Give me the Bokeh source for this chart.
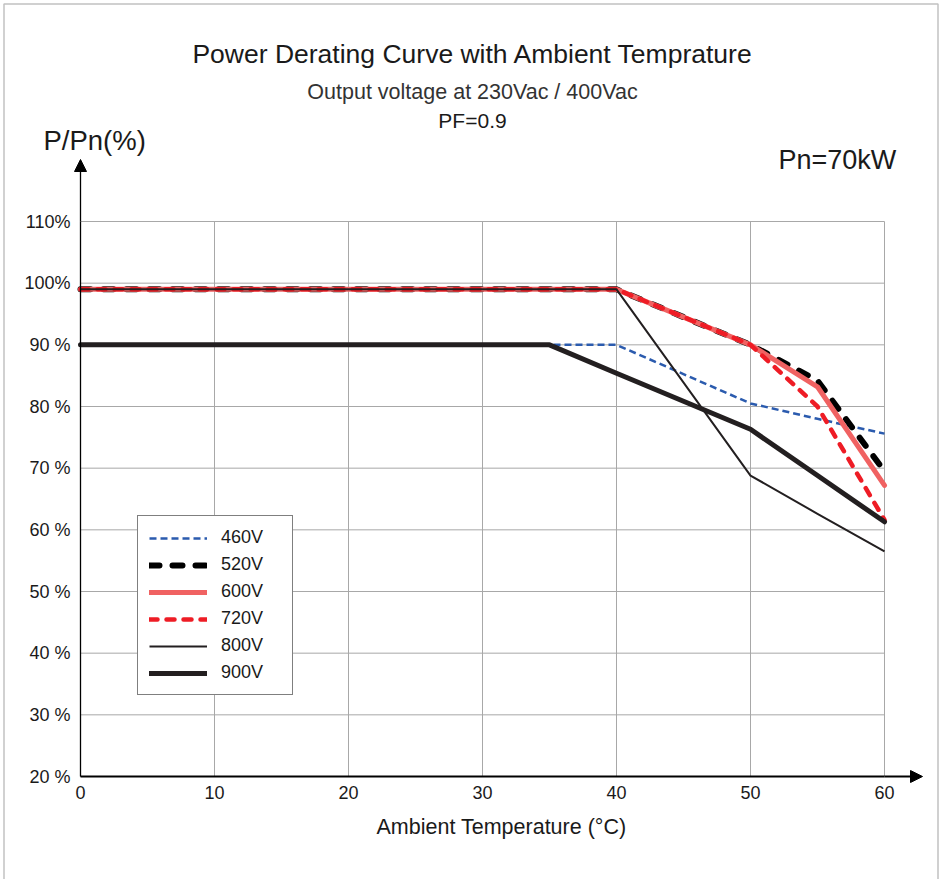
from bokeh.plotting import figure
from bokeh.models import (Label, Arrow, NormalHead, Legend, LegendItem,
                          FixedTicker, Range1d, BoxAnnotation)
from bokeh.embed import file_html
from bokeh.resources import INLINE

# ---------------- data ----------------
temps = [0, 35, 40, 50, 55, 60]
p_460 = [90, 90, 90, 80.5, 78.0, 75.6]
p_520 = [99, 99, 99, 90, 84.2, 69.5]
p_600 = [99, 99, 99, 90, 83.2, 67.2]
p_720 = [99, 99, 99, 90, 80.0, 61.6]
p_800 = [99, 99, 99, 68.8, 62.6, 56.5]
p_900 = [90, 90, 85.4, 76.3, 68.8, 61.3]
series_labels = ["460V", "520V", "600V", "720V", "800V", "900V"]

x_ticks = [0, 10, 20, 30, 40, 50, 60]
y_ticks = [20, 30, 40, 50, 60, 70, 80, 90, 100, 110]
y_tick_labels = ["20 %", "30 %", "40 %", "50 %", "60 %", "70 %", "80 %", "90 %", "100%", "110%"]

title_text = "Power Derating Curve with Ambient Temprature"
subtitle_text = "Output voltage at 230Vac / 400Vac"
pf_text = "PF=0.9"
ylabel_text = "P/Pn(%)"
pn_text = "Pn=70kW"
xlabel_text = "Ambient Temperature (°C)"

FONT = "Liberation Sans"
W, H = 945, 879

# picture-pixel helpers (plot area: x 80..884, y 221..776)
def px_x(px):
    return (px - 80) * 60.0 / 804.0

def px_y(py):
    return 20 + (776 - py) * 90.0 / 555.0

x_lo, x_hi = x_ticks[0], x_ticks[-1]
y_lo, y_hi = y_ticks[0], y_ticks[-1]

p = figure(width=W, height=H,
           x_range=Range1d(px_x(0), px_x(W)), y_range=Range1d(px_y(H), px_y(0)),
           output_backend="svg", toolbar_location=None, min_border=0)
p.outline_line_color = None
p.background_fill_color = "white"
p.border_fill_color = "white"
p.grid.visible = False

# grid lines from the tick lists
p.segment(x0=x_ticks, y0=[y_lo] * len(x_ticks), x1=x_ticks, y1=[y_hi] * len(x_ticks),
          line_color="#a8a8a8", line_width=1)
p.segment(x0=[x_lo] * len(y_ticks), y0=y_ticks, x1=[x_hi] * len(y_ticks), y1=y_ticks,
          line_color="#a8a8a8", line_width=1)

# axes, pinned at the data origin
p.xaxis.fixed_location = y_lo
p.yaxis.fixed_location = x_lo
p.xaxis.bounds = (x_lo, x_hi)
p.yaxis.bounds = (y_lo, y_hi)
p.xaxis.ticker = FixedTicker(ticks=x_ticks)
p.yaxis.ticker = FixedTicker(ticks=y_ticks)
p.yaxis.major_label_overrides = {t: l for t, l in zip(y_ticks, y_tick_labels)}
for ax in (p.xaxis[0], p.yaxis[0]):
    ax.major_tick_in = 0
    ax.major_tick_out = 0
    ax.minor_tick_in = 0
    ax.minor_tick_out = 0
    ax.axis_line_color = "black"
    ax.major_label_text_font = FONT
    ax.major_label_text_font_size = "18px"
    ax.major_label_text_color = "#1a1a1a"
p.xaxis.axis_line_width = 2
p.yaxis.axis_line_width = 1.3
p.xaxis.major_label_standoff = 9
p.yaxis.major_label_standoff = 10

# series
r460 = p.line(temps, p_460, line_color="#2B5BAE", line_width=2.5, line_dash="7 4")
r520 = p.line(temps, p_520, line_color="black", line_width=6, line_dash="10 13",
              line_cap="round", line_join="round")
r600 = p.line(temps, p_600, line_color="#F06262", line_width=5,
              line_cap="round", line_join="round")
r720 = p.line(temps, p_720, line_color="#EE1C25", line_width=4.5, line_dash="8 9",
              line_cap="round", line_join="round")
r800 = p.line(temps, p_800, line_color="#231F20", line_width=2, line_join="round")
r900 = p.line(temps, p_900, line_color="#231F20", line_width=5,
              line_cap="round", line_join="round")
renderers = [r460, r520, r600, r720, r800, r900]

legend = Legend(items=[LegendItem(label=lab, renderers=[r]) for lab, r in zip(series_labels, renderers)],
                location=(137, H - 695), border_line_color="black", border_line_width=1,
                padding=11, spacing=6, glyph_width=58, glyph_height=20,
                label_standoff=14, label_width=60, label_height=20, margin=0,
                label_text_font=FONT, label_text_font_size="18px",
                label_text_color="#1a1a1a",
                background_fill_color="white", background_fill_alpha=1)
p.add_layout(legend)

# axis arrows
p.add_layout(Arrow(end=NormalHead(size=12, fill_color="black", line_color="black"),
                   x_start=x_lo, y_start=y_hi, x_end=x_lo, y_end=px_y(159),
                   line_color="black", line_width=1.3))
p.add_layout(Arrow(end=NormalHead(size=12, fill_color="black", line_color="black"),
                   x_start=x_hi, y_start=y_lo, x_end=px_x(922), y_end=y_lo,
                   line_color="black", line_width=2))

# texts
def add_text(txt, x, y, size, align="center", color="#1a1a1a"):
    p.add_layout(Label(x=x, y=y, text=txt, text_font=FONT, text_font_size=size,
                       text_align=align, text_baseline="alphabetic", text_color=color))

add_text(title_text, px_x(472.5), px_y(53), "26.5px")
add_text(subtitle_text, px_x(472), px_y(91), "21.5px", color="#333333")
add_text(pf_text, px_x(472), px_y(119.5), "21px")
add_text(ylabel_text, px_x(43), px_y(139.5), "27.5px", align="left")
add_text(pn_text, px_x(778), px_y(159.5), "27px", align="left")
add_text(xlabel_text, px_x(501), px_y(826.5), "21.5px")

# outer frame of the picture
p.add_layout(BoxAnnotation(left=px_x(3.5), right=px_x(937.5), top=px_y(3.5), bottom=px_y(890),
                           fill_color=None, fill_alpha=0, line_color="#333333", line_width=1.5))

open("out.html", "w").write(file_html(p, INLINE))
